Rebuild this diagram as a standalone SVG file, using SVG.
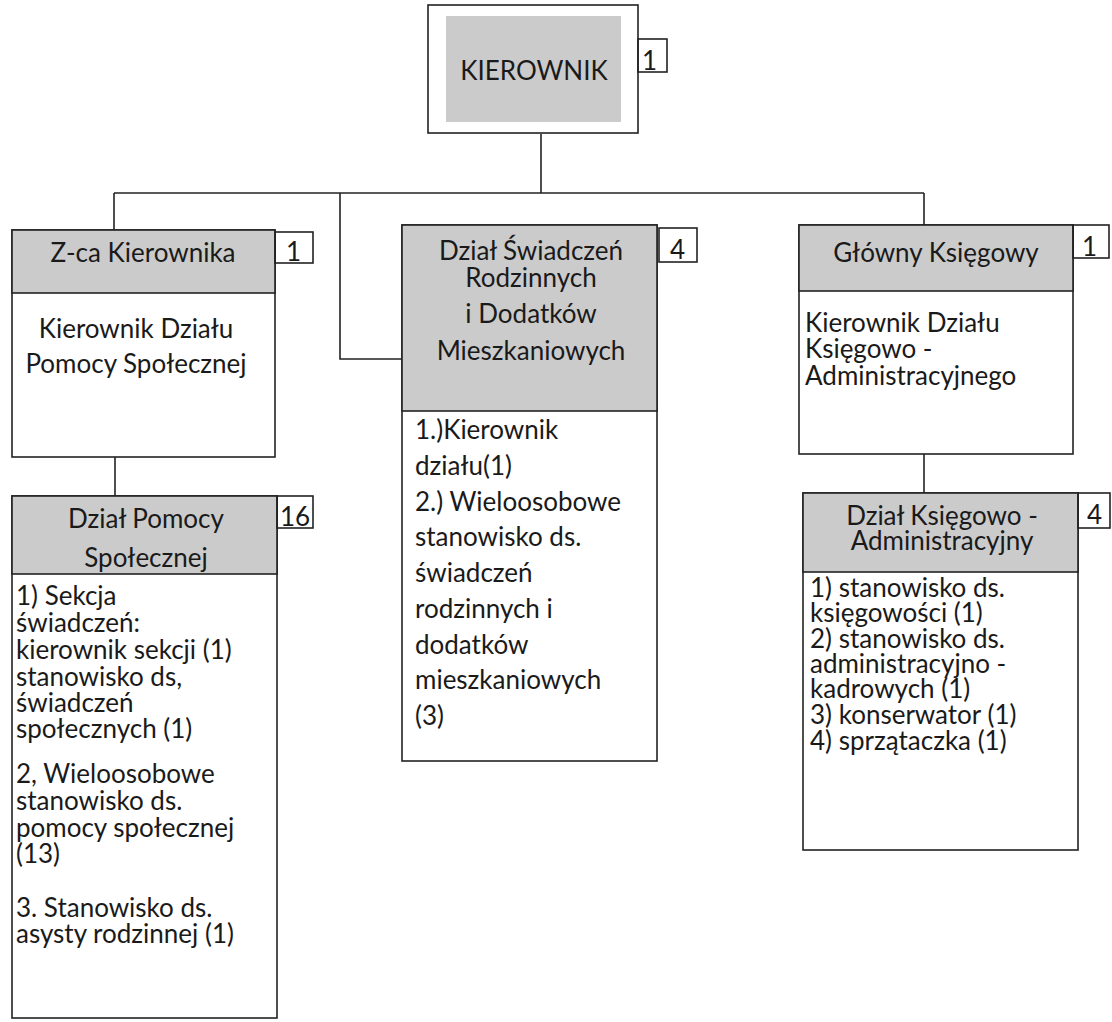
<svg xmlns="http://www.w3.org/2000/svg" width="1112" height="1022" viewBox="0 0 1112 1022">
<style>
text{font-family:Lato,"Noto Sans","DejaVu Sans",sans-serif;font-size:26px;fill:#1a1a1a}
.c{text-anchor:middle}
.box{fill:#fff;stroke:#222;stroke-width:1.6}
.hd{fill:#cbcbcb;stroke:#222;stroke-width:1.6}
.bg{fill:none;stroke:#222;stroke-width:1.6}
.ln{fill:none;stroke:#222;stroke-width:1.6}
</style>
<rect width="1112" height="1022" fill="#fff"/>
<g id="connectors">
<path class="ln" d="M541,134 V193"/>
<path class="ln" d="M114,193 H924"/>
<path class="ln" d="M114,193 V230"/>
<path class="ln" d="M340,193 V359 H402"/>
<path class="ln" d="M924,193 V225"/>
<path class="ln" d="M115,457 V496"/>
<path class="ln" d="M924,454 V493"/>
</g>
<g id="kierownik">
<rect class="box" x="428" y="5" width="210" height="128"/>
<rect x="446" y="16" width="175" height="106" fill="#cbcbcb"/>
<text class="c" x="534" y="80">KIEROWNIK</text>
<rect class="bg" x="638" y="39" width="29" height="33"/>
<text x="642" y="70">1</text>
</g>
<g id="zca">
<rect class="box" x="12" y="230" width="263" height="227"/>
<rect class="hd" x="12" y="230" width="263" height="63"/>
<text class="c" x="143" y="262">Z-ca Kierownika</text>
<text class="c" x="136" y="338">Kierownik Działu</text>
<text class="c" x="136" y="373">Pomocy Społecznej</text>
<rect class="bg" x="275" y="232" width="38" height="31"/>
<text x="286" y="261">1</text>
</g>
<g id="pomoc">
<rect class="box" x="12" y="496" width="265" height="522"/>
<rect class="hd" x="12" y="496" width="265" height="78"/>
<text class="c" x="146" y="528">Dział Pomocy</text>
<text class="c" x="146" y="567">Społecznej</text>
<rect class="bg" x="277" y="496" width="36" height="32"/>
<text x="280" y="526">16</text>
<text x="16" y="605">1) Sekcja</text>
<text x="16" y="632">świadczeń:</text>
<text x="16" y="659">kierownik sekcji (1)</text>
<text x="16" y="686">stanowisko ds,</text>
<text x="16" y="712">świadczeń</text>
<text x="16" y="738">społecznych (1)</text>
<text x="16" y="783">2, Wieloosobowe</text>
<text x="16" y="810">stanowisko ds.</text>
<text x="16" y="837">pomocy społecznej</text>
<text x="16" y="863">(13)</text>
<text x="16" y="917">3. Stanowisko ds.</text>
<text x="16" y="943">asysty rodzinnej (1)</text>
</g>
<g id="swiadczenia">
<rect class="box" x="402" y="225" width="255" height="536"/>
<rect class="hd" x="402" y="225" width="255" height="186"/>
<text class="c" x="531" y="260">Dział Świadczeń</text>
<text class="c" x="531" y="287">Rodzinnych</text>
<text class="c" x="531" y="323">i Dodatków</text>
<text class="c" x="531" y="360">Mieszkaniowych</text>
<rect class="bg" x="659" y="228" width="38" height="34"/>
<text x="670" y="259">4</text>
<text x="415" y="439">1.)Kierownik</text>
<text x="415" y="475">działu(1)</text>
<text x="415" y="511">2.) Wieloosobowe</text>
<text x="415" y="546">stanowisko ds.</text>
<text x="415" y="582">świadczeń</text>
<text x="415" y="618">rodzinnych i</text>
<text x="415" y="654">dodatków</text>
<text x="415" y="689">mieszkaniowych</text>
<text x="415" y="725">(3)</text>
</g>
<g id="glowny">
<rect class="box" x="799" y="225" width="274" height="229"/>
<rect class="hd" x="799" y="225" width="274" height="66"/>
<text class="c" x="936" y="262">Główny Księgowy</text>
<rect class="bg" x="1073" y="225" width="36" height="33"/>
<text x="1082" y="256">1</text>
<text x="805" y="332">Kierownik Działu</text>
<text x="805" y="358">Księgowo -</text>
<text x="805" y="385">Administracyjnego</text>
</g>
<g id="ksiegowy">
<rect class="box" x="803" y="493" width="275" height="357"/>
<rect class="hd" x="803" y="493" width="275" height="79"/>
<text class="c" x="942" y="525">Dział Księgowo -</text>
<text class="c" x="942" y="550">Administracyjny</text>
<rect class="bg" x="1078" y="493" width="32" height="35"/>
<text x="1087" y="524">4</text>
<text x="810" y="597">1) stanowisko ds.</text>
<text x="810" y="622">księgowości (1)</text>
<text x="810" y="648">2) stanowisko ds.</text>
<text x="810" y="673">administracyjno -</text>
<text x="810" y="698">kadrowych (1)</text>
<text x="810" y="724">3) konserwator (1)</text>
<text x="810" y="750">4) sprzątaczka (1)</text>
</g>
</svg>
